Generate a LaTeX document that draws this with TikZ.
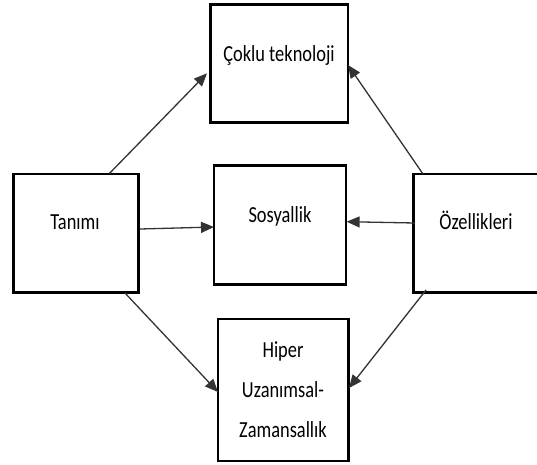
\documentclass[tikz,border=0pt]{standalone}
\usepackage{fontspec}
\setmainfont{Carlito}[FakeStretch=0.8]
\usetikzlibrary{arrows.meta}
\begin{document}
\begin{tikzpicture}[x=1pt,y=-1pt,
  box/.style={draw=black,line width=2.6pt},
  lbl/.style={font=\fontsize{23}{40}\selectfont,align=center,inner sep=0pt},
  arr/.style={draw=black!80,line width=1.3pt,-{Triangle[length=13pt,width=11pt]}}]
\useasboundingbox (0,0) rectangle (537,464);
\draw[box] (210.6,4.7) rectangle (348,122.7);
\draw[box] (214,165.7) rectangle (346,284.3);
\draw[box] (13.7,174) rectangle (138.7,292.7);
\draw[box] (413.7,174) rectangle (545,292.7);
\draw[box] (218,319) rectangle (348.6,461);
\node[lbl,anchor=base] (c) at (279,61) {Çoklu teknoloji};
\node[lbl,anchor=base] (s) at (280,222) {Sosyallik};
\node[lbl,anchor=base] (t) at (75,229) {Tanımı};
\node[lbl,anchor=base] (o) at (476,229) {Özellikleri};
\node[lbl,anchor=base] (h) at (283,437) {Hiper\\Uzanımsal-\\Zamansallık};
\coordinate (t1) at (109.6,173.3); \coordinate (c1) at (207,73.3);
\coordinate (t2) at (140,229); \coordinate (s1) at (214,227);
\coordinate (t3) at (125,293); \coordinate (h1) at (218,392);
\coordinate (o1) at (423,174); \coordinate (c2) at (348,65);
\coordinate (o2) at (415,223); \coordinate (s2) at (346.6,221.7);
\coordinate (o3) at (426,290); \coordinate (h2) at (349,388);
\draw[arr] (t1) -- (c1);
\draw[arr] (t2) -- (s1);
\draw[arr] (t3) -- (h1);
\draw[arr] (o1) -- (c2);
\draw[arr] (o2) -- (s2);
\draw[arr] (o3) -- (h2);
\end{tikzpicture}
\end{document}
